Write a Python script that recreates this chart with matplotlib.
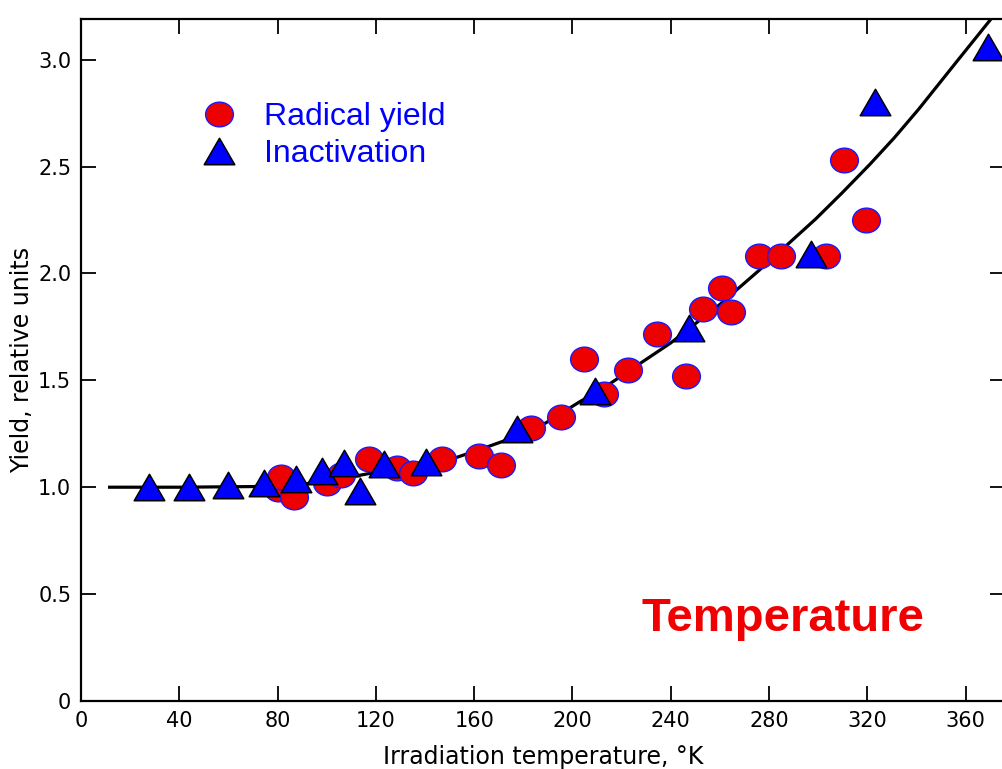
import matplotlib
matplotlib.use("Agg")
import matplotlib.pyplot as plt
from matplotlib.path import Path
from matplotlib.markers import MarkerStyle
from matplotlib.transforms import Affine2D

# radical yield (red circles)
radical_t = [80, 81.5, 86.5, 100, 106, 117, 128.5, 135, 147, 162, 171, 183, 195.5,
             204.5, 213, 222.5, 234.5, 246, 253, 261, 264.5, 276, 285, 303, 310.5, 319.5]
radical_y = [0.99, 1.05, 0.955, 1.02, 1.055, 1.13, 1.09, 1.065, 1.13, 1.145, 1.105, 1.275, 1.33,
             1.60, 1.435, 1.55, 1.715, 1.52, 1.835, 1.93, 1.82, 2.08, 2.08, 2.08, 2.53, 2.25]

# inactivation (blue triangles)
inact_t = [27.5, 44, 60, 74.5, 87.5, 98, 107, 113.5, 123.5, 140.5, 177.5, 209, 247.5, 297, 323, 369]
inact_y = [1.0, 1.0, 1.01, 1.02, 1.04, 1.075, 1.115, 0.98, 1.11, 1.12, 1.27, 1.45, 1.745, 2.09, 2.80, 3.06]

# fitted curve
curve_t = [11, 40, 70, 85, 95, 105, 113, 125, 135, 145, 153, 162, 172, 180, 189, 196, 203, 210, 216,
           227, 240, 250, 260, 268, 276, 287, 299, 310, 321, 331, 341, 349, 357, 364, 371]
curve_y = [1.0, 1.0, 1.003, 1.01, 1.02, 1.035, 1.055, 1.08, 1.10, 1.12, 1.14, 1.175, 1.216, 1.255, 1.30,
           1.35, 1.40, 1.445, 1.49, 1.575, 1.675, 1.765, 1.855, 1.935, 2.015, 2.13, 2.255, 2.38, 2.51,
           2.635, 2.77, 2.885, 3.0, 3.1, 3.2]

xticks = [0, 40, 80, 120, 160, 200, 240, 280, 320, 360]
yticks = [0, 0.5, 1.0, 1.5, 2.0, 2.5, 3.0]
ytick_labels = ["0", "0.5", "1.0", "1.5", "2.0", "2.5", "3.0"]

# slightly wide ellipse and equilateral triangle markers
ellipse = MarkerStyle(Path.unit_circle().transformed(Affine2D().scale(1.0, 0.89)))
tri = MarkerStyle(Path([(-0.5, -0.433), (0.5, -0.433), (0.0, 0.433), (-0.5, -0.433)],
                       [Path.MOVETO, Path.LINETO, Path.LINETO, Path.CLOSEPOLY]))

fig = plt.figure(figsize=(10.03, 7.69), dpi=100)
ax = fig.add_axes([81 / 1003, 68 / 769, 924 / 1003, 682 / 769])

ax.plot(curve_t, curve_y, color="black", lw=2.3, zorder=2, solid_capstyle="butt")
ax.plot(radical_t, radical_y, ls="none", marker=ellipse, ms=20, mfc="#ee0000",
        mec="#1a1aff", mew=1.0, zorder=3, label="Radical yield")
ax.plot(inact_t, inact_y, ls="none", marker=tri, ms=22, mfc="#0000ff",
        mec="black", mew=1.1, zorder=4, label="Inactivation")

ax.set_xlim(0, 376)
ax.set_ylim(0, 3.19)
ax.set_xticks(xticks)
ax.set_xticklabels([str(t) for t in xticks])
ax.set_yticks(yticks)
ax.set_yticklabels(ytick_labels)
ax.tick_params(direction="in", length=11, width=1.3, top=True, right=True,
               labelsize=15, pad=7, colors="black")
for s in ax.spines.values():
    s.set_linewidth(1.6)

ax.set_xlabel("Irradiation temperature, \u00b0K", fontsize=17, labelpad=10)
ax.set_ylabel("Yield, relative units", fontsize=17, labelpad=3)

leg = ax.legend(loc="upper left", bbox_to_anchor=(0.132, 0.878), frameon=False,
                handlelength=1.0, handletextpad=0.9, labelspacing=0.22,
                borderpad=0, borderaxespad=0, prop={"family": "Liberation Sans", "size": 23})
for t in leg.get_texts():
    t.set_color("#0000ff")

ax.text(228, 0.327, "Temperature", color="#f00000", fontsize=34, fontweight="bold",
        family="Liberation Sans", ha="left", va="baseline")

fig.savefig("out.png", dpi=100)
